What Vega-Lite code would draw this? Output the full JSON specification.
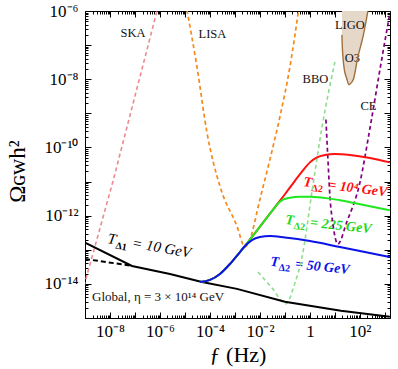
{
  "$schema": "https://vega.github.io/schema/vega-lite/v6.json",
  "autosize": {"type": "none"},
  "width": 305,
  "height": 307,
  "padding": {"left": 85, "top": 11, "right": 8, "bottom": 51},
  "background": "white",
  "config": {
    "font": "Liberation Serif",
    "view": {"stroke": "#000", "strokeWidth": 1},
    "axis": {"labelFont": "Liberation Serif", "titleFont": "Liberation Serif"},
    "text": {"font": "Liberation Serif"}
  },
  "datasets": {
    "ska": [{"f": 9.12e-10, "omega": 8.71e-15}, {"f": 1.318e-8, "omega": 1.023e-11}, {"f": 7.586e-7, "omega": 1e-6}],
    "lisa": [
      {"f": 1.202e-5, "omega": 1.07e-6}, {"f": 3.02e-5, "omega": 2.317e-8}, {"f": 7.586e-5, "omega": 2.742e-10},
      {"f": 2.512e-4, "omega": 7.261e-12}, {"f": 1.202e-3, "omega": 4.932e-13}, {"f": 2.512e-3, "omega": 1.202e-13},
      {"f": 3.981e-3, "omega": 2.061e-13}, {"f": 1e-2, "omega": 3.034e-12}, {"f": 2.512e-2, "omega": 4.467e-11},
      {"f": 6.31e-2, "omega": 8.035e-10}, {"f": 0.1585, "omega": 2.317e-8}, {"f": 0.3467, "omega": 1e-6}
    ],
    "bbo": [
      {"f": 8.318e-3, "omega": 2.239e-14}, {"f": 3.02e-2, "omega": 7.64e-15}, {"f": 0.1096, "omega": 2.606e-15},
      {"f": 0.2443, "omega": 1.0e-14}, {"f": 0.4656, "omega": 5.37e-14}, {"f": 1.318, "omega": 7.78e-12},
      {"f": 2.938, "omega": 3.357e-10}, {"f": 10, "omega": 3.243e-8}
    ],
    "ce": [
      {"f": 4.365, "omega": 6.577e-10}, {"f": 5.248, "omega": 4.467e-11}, {"f": 6.31, "omega": 3.707e-12},
      {"f": 8.318, "omega": 5.65e-13}, {"f": 13.18, "omega": 1.472e-13}, {"f": 29.38, "omega": 6.32e-13},
      {"f": 100, "omega": 9.31e-12}, {"f": 251.2, "omega": 3.589e-10}, {"f": 631, "omega": 1.892e-8},
      {"f": 1585, "omega": 8.75e-7}
    ],
    "ligofill": [
      {"omega": 1e-6, "f": 19.05, "f2": 208.9}, {"omega": 1.995e-7, "f": 19.05, "f2": 138.0},
      {"omega": 1e-7, "f": 19.95, "f2": 109.6}, {"omega": 4.571e-8, "f": 20.89, "f2": 83.18},
      {"omega": 1.549e-8, "f": 25.12, "f2": 63.1}, {"omega": 1e-8, "f": 30.2, "f2": 54.95},
      {"omega": 7.943e-9, "f": 33.11, "f2": 45.71}, {"omega": 6.918e-9, "f": 36.31, "f2": 37.0}
    ],
    "ligoedge": [
      {"k": 1, "f": 19.05, "omega": 1.995e-7}, {"k": 2, "f": 20.89, "omega": 4.571e-8}, {"k": 3, "f": 25.12, "omega": 1.549e-8},
      {"k": 4, "f": 30.2, "omega": 1e-8}, {"k": 5, "f": 33.11, "omega": 7.943e-9}, {"k": 6, "f": 36.31, "omega": 6.918e-9},
      {"k": 7, "f": 45.71, "omega": 7.943e-9}, {"k": 8, "f": 54.95, "omega": 1e-8}, {"k": 9, "f": 63.1, "omega": 1.549e-8},
      {"k": 10, "f": 83.18, "omega": 4.571e-8}, {"k": 11, "f": 109.6, "omega": 1e-7}, {"k": 12, "f": 138.0, "omega": 1.995e-7},
      {"k": 13, "f": 208.9, "omega": 1e-6}
    ],
    "glob": [
      {"f": 1e-9, "omega": 1.63e-13}, {"f": 7.586e-8, "omega": 3.357e-14}, {"f": 2.512e-6, "omega": 1.959e-14},
      {"f": 4.786e-5, "omega": 1.143e-14}, {"f": 1.202e-3, "omega": 7.145e-15}, {"f": 0.1, "omega": 2.979e-15},
      {"f": 17.38, "omega": 1.63e-15}, {"f": 1585, "omega": 1.086e-15}
    ],
    "globdash": [{"f": 1e-9, "omega": 5.37e-14}, {"f": 6.31e-8, "omega": 3.467e-14}],
    "blue": [
      {"f": 3.981e-5, "omega": 1.143e-14}, {"f": 1e-4, "omega": 1.309e-14}, {"f": 2.512e-4, "omega": 1.959e-14},
      {"f": 6.31e-4, "omega": 3.837e-14}, {"f": 1.585e-3, "omega": 8.59e-14}, {"f": 2.512e-3, "omega": 1.285e-13},
      {"f": 4.786e-3, "omega": 1.928e-13}, {"f": 1e-2, "omega": 2.355e-13}, {"f": 2.512e-2, "omega": 2.518e-13},
      {"f": 0.1, "omega": 2.28e-13}, {"f": 1, "omega": 1.8e-13}, {"f": 15.85, "omega": 1.202e-13},
      {"f": 158.5, "omega": 8.59e-14}, {"f": 1585, "omega": 6.14e-14}
    ],
    "green": [
      {"f": 3.981e-5, "omega": 1.143e-14}, {"f": 1e-4, "omega": 1.309e-14}, {"f": 2.512e-4, "omega": 1.959e-14},
      {"f": 6.31e-4, "omega": 3.837e-14}, {"f": 1.585e-3, "omega": 8.59e-14}, {"f": 2.512e-3, "omega": 1.285e-13},
      {"f": 6.31e-3, "omega": 3.083e-13}, {"f": 1.585e-2, "omega": 7.396e-13}, {"f": 3.02e-2, "omega": 1.352e-12},
      {"f": 4.786e-2, "omega": 2.094e-12}, {"f": 8.318e-2, "omega": 2.931e-12}, {"f": 0.1585, "omega": 3.357e-12},
      {"f": 0.3981, "omega": 3.589e-12}, {"f": 1, "omega": 3.589e-12}, {"f": 15.85, "omega": 2.838e-12},
      {"f": 158.5, "omega": 2.028e-12}, {"f": 1585, "omega": 1.449e-12}
    ],
    "red": [
      {"f": 3.981e-5, "omega": 1.143e-14}, {"f": 1e-4, "omega": 1.309e-14}, {"f": 2.512e-4, "omega": 1.959e-14},
      {"f": 6.31e-4, "omega": 3.837e-14}, {"f": 1.585e-3, "omega": 8.59e-14}, {"f": 2.512e-3, "omega": 1.285e-13},
      {"f": 6.31e-3, "omega": 3.083e-13}, {"f": 1.585e-2, "omega": 7.396e-13}, {"f": 3.02e-2, "omega": 1.352e-12},
      {"f": 4.786e-2, "omega": 2.094e-12}, {"f": 0.1, "omega": 4.246e-12}, {"f": 0.2512, "omega": 1.052e-11},
      {"f": 0.5248, "omega": 2.128e-11}, {"f": 1, "omega": 3.648e-11}, {"f": 1.905, "omega": 5.105e-11},
      {"f": 3.981, "omega": 6.04e-11}, {"f": 10, "omega": 6.46e-11}, {"f": 39.81, "omega": 6.04e-11},
      {"f": 251.2, "omega": 4.93e-11}, {"f": 1585, "omega": 3.648e-11}
    ],
    "detlab": [
      {"f": 8.318e-8, "omega": 1.738e-7, "label": "SKA"},
      {"f": 1.259e-4, "omega": 1.622e-7, "label": "LISA"},
      {"f": 39.81, "omega": 2.951e-7, "label": "LIGO"},
      {"f": 50.12, "omega": 3.236e-8, "label": "O3"},
      {"f": 1.66, "omega": 7.943e-9, "label": "BBO"},
      {"f": 218.8, "omega": 1.288e-9, "label": "CE"}
    ],
    "globlab": [{"f": 1.905e-9, "omega": 3.162e-15, "label": "Global, η = 3 × 10¹⁴ GeV"}],
    "tlab": [
      {"id": "d1", "f": 7.586e-9, "omega": 1.574e-13, "t": "T", "sub": "Δ1", "rest": "= 10 GeV"},
      {"id": "red", "f": 0.5248, "omega": 7.413e-12, "t": "T", "sub": "Δ2", "rest": "= 10⁴ GeV"},
      {"id": "green", "f": 0.1, "omega": 5.65e-13, "t": "T", "sub": "Δ2", "rest": "= 225 GeV"},
      {"id": "blue", "f": 0.02512, "omega": 3.42e-14, "t": "T", "sub": "Δ2", "rest": "= 50 GeV"}
    ],
    "dummy": [{"f": 1, "omega": 1e-10}]
  },
  "layer": [
    {
      "encoding": {
        "x": {
          "field": "f", "type": "quantitative",
          "scale": {"type": "log", "domain": [1e-9, 1600], "nice": false},
          "axis": {
            "orient": "bottom",
            "values": [1e-9,2e-9,3e-9,4e-9,5e-9,6e-9,7e-9,8e-9,9e-9,1e-8,2e-8,3e-8,4e-8,5e-8,6e-8,7e-8,8e-8,9e-8,1e-7,2e-7,3e-7,4e-7,5e-7,6e-7,7e-7,8e-7,9e-7,1e-6,2e-6,3e-6,4e-6,5e-6,6e-6,7e-6,8e-6,9e-6,1e-5,2e-5,3e-5,4e-5,5e-5,6e-5,7e-5,8e-5,9e-5,1e-4,2e-4,3e-4,4e-4,5e-4,6e-4,7e-4,8e-4,9e-4,1e-3,2e-3,3e-3,4e-3,5e-3,6e-3,7e-3,8e-3,9e-3,0.01,0.02,0.03,0.04,0.05,0.06,0.07,0.08,0.09,0.1,0.2,0.3,0.4,0.5,0.6,0.7,0.8,0.9,1,2,3,4,5,6,7,8,9,10,20,30,40,50,60,70,80,90,100,200,300,400,500,600,700,800,900,1000],
            "labelExpr": "abs(log(datum.value)/LN10 - round(log(datum.value)/LN10)) > 0.01 ? '' : round(log(datum.value)/LN10) == -8 ? '10⁻⁸' : round(log(datum.value)/LN10) == -6 ? '10⁻⁶' : round(log(datum.value)/LN10) == -4 ? '10⁻⁴' : round(log(datum.value)/LN10) == -2 ? '10⁻²' : round(log(datum.value)/LN10) == 0 ? '1' : round(log(datum.value)/LN10) == 2 ? '10²' : ''",
            "labelOverlap": false, "labelFlush": false,
            "labelFont": "Liberation Serif", "labelFontSize": 17, "labelColor": "#000",
            "labelPadding": 11,
            "tickColor": "#000", "tickWidth": 1,
            "tickSize": {"condition": {"test": "abs(log(datum.value)/LN10 - round(log(datum.value)/LN10)) < 0.01", "value": -6}, "value": -3},
            "domain": false, "grid": false,
            "title": "ƒ (Hz)", "titleFont": "Liberation Serif", "titleFontSize": 22, "titleFontWeight": "normal", "titleColor": "#000", "titlePadding": 2
          }
        },
        "y": {
          "field": "omega", "type": "quantitative",
          "scale": {"type": "log", "domain": [1e-15, 1e-6], "nice": false},
          "axis": {
            "orient": "left",
            "values": [1e-15,2e-15,3e-15,4e-15,5e-15,6e-15,7e-15,8e-15,9e-15,1e-14,2e-14,3e-14,4e-14,5e-14,6e-14,7e-14,8e-14,9e-14,1e-13,2e-13,3e-13,4e-13,5e-13,6e-13,7e-13,8e-13,9e-13,1e-12,2e-12,3e-12,4e-12,5e-12,6e-12,7e-12,8e-12,9e-12,1e-11,2e-11,3e-11,4e-11,5e-11,6e-11,7e-11,8e-11,9e-11,1e-10,2e-10,3e-10,4e-10,5e-10,6e-10,7e-10,8e-10,9e-10,1e-9,2e-9,3e-9,4e-9,5e-9,6e-9,7e-9,8e-9,9e-9,1e-8,2e-8,3e-8,4e-8,5e-8,6e-8,7e-8,8e-8,9e-8,1e-7,2e-7,3e-7,4e-7,5e-7,6e-7,7e-7,8e-7,9e-7,1e-6],
            "labelExpr": "abs(log(datum.value)/LN10 - round(log(datum.value)/LN10)) > 0.01 ? '' : round(log(datum.value)/LN10) == -14 ? '10⁻¹⁴' : round(log(datum.value)/LN10) == -12 ? '10⁻¹²' : round(log(datum.value)/LN10) == -10 ? '10⁻¹⁰' : round(log(datum.value)/LN10) == -8 ? '10⁻⁸' : round(log(datum.value)/LN10) == -6 ? '10⁻⁶' : ''",
            "labelOverlap": false, "labelFlush": false,
            "labelFont": "Liberation Serif", "labelFontSize": 17, "labelColor": "#000",
            "labelPadding": 13,
            "tickColor": "#000", "tickWidth": 1,
            "tickSize": {"condition": {"test": "abs(log(datum.value)/LN10 - round(log(datum.value)/LN10)) < 0.01", "value": -6}, "value": -3},
            "domain": false, "grid": false,
            "title": "Ωɢᴡh²", "titleFont": "Liberation Serif", "titleFontSize": 23, "titleFontWeight": "normal", "titleColor": "#000", "titlePadding": 14, "titleY": 160
          }
        }
      },
      "layer": [
        {"data": {"name": "ligofill"}, "mark": {"type": "area", "orient": "horizontal", "interpolate": "monotone", "color": "#e6d8c9", "clip": true},
         "encoding": {"x2": {"field": "f2"}}},
        {"data": {"name": "detlab"}, "mark": {"type": "text", "align": "center", "baseline": "alphabetic", "font": "Liberation Serif", "fontSize": 12.5, "color": "#111"},
         "encoding": {"text": {"field": "label"}}},
        {"data": {"name": "globlab"}, "mark": {"type": "text", "align": "left", "baseline": "alphabetic", "font": "Liberation Serif", "fontSize": 13, "color": "#111"},
         "encoding": {"text": {"field": "label"}}},
        {"data": {"name": "tlab"}, "transform": [{"filter": "datum.id == 'd1'"}],
         "mark": {"type": "text", "align": "left", "baseline": "alphabetic", "angle": 10, "fontSize": 15, "fontStyle": "italic", "color": "#000"},
         "encoding": {"text": {"field": "t"}}},
        {"data": {"name": "tlab"}, "transform": [{"filter": "datum.id == 'd1'"}],
         "mark": {"type": "text", "align": "left", "baseline": "alphabetic", "angle": 10, "dx": 9, "dy": 4, "fontSize": 10, "fontWeight": "bold", "color": "#000"},
         "encoding": {"text": {"field": "sub"}}},
        {"data": {"name": "tlab"}, "transform": [{"filter": "datum.id == 'd1'"}],
         "mark": {"type": "text", "align": "left", "baseline": "alphabetic", "angle": 10, "dx": 25, "fontSize": 15, "fontStyle": "italic", "color": "#000"},
         "encoding": {"text": {"field": "rest"}}},
        {"data": {"name": "tlab"}, "transform": [{"filter": "datum.id == 'red'"}],
         "mark": {"type": "text", "align": "left", "baseline": "alphabetic", "angle": 7, "fontSize": 14, "fontStyle": "italic", "fontWeight": "bold", "color": "#ff1010"},
         "encoding": {"text": {"field": "t"}}},
        {"data": {"name": "tlab"}, "transform": [{"filter": "datum.id == 'red'"}],
         "mark": {"type": "text", "align": "left", "baseline": "alphabetic", "angle": 7, "dx": 9, "dy": 4, "fontSize": 10, "fontWeight": "bold", "color": "#ff1010"},
         "encoding": {"text": {"field": "sub"}}},
        {"data": {"name": "tlab"}, "transform": [{"filter": "datum.id == 'red'"}],
         "mark": {"type": "text", "align": "left", "baseline": "alphabetic", "angle": 7, "dx": 25, "fontSize": 14, "fontStyle": "italic", "fontWeight": "bold", "color": "#ff1010"},
         "encoding": {"text": {"field": "rest"}}},
        {"data": {"name": "tlab"}, "transform": [{"filter": "datum.id == 'green'"}],
         "mark": {"type": "text", "align": "left", "baseline": "alphabetic", "angle": 6, "fontSize": 14, "fontStyle": "italic", "fontWeight": "bold", "color": "#1ed81e"},
         "encoding": {"text": {"field": "t"}}},
        {"data": {"name": "tlab"}, "transform": [{"filter": "datum.id == 'green'"}],
         "mark": {"type": "text", "align": "left", "baseline": "alphabetic", "angle": 6, "dx": 9, "dy": 4, "fontSize": 10, "fontWeight": "bold", "color": "#1ed81e"},
         "encoding": {"text": {"field": "sub"}}},
        {"data": {"name": "tlab"}, "transform": [{"filter": "datum.id == 'green'"}],
         "mark": {"type": "text", "align": "left", "baseline": "alphabetic", "angle": 6, "dx": 25, "fontSize": 14, "fontStyle": "italic", "fontWeight": "bold", "color": "#1ed81e"},
         "encoding": {"text": {"field": "rest"}}},
        {"data": {"name": "tlab"}, "transform": [{"filter": "datum.id == 'blue'"}],
         "mark": {"type": "text", "align": "left", "baseline": "alphabetic", "angle": 6, "fontSize": 14, "fontStyle": "italic", "fontWeight": "bold", "color": "#0a14e6"},
         "encoding": {"text": {"field": "t"}}},
        {"data": {"name": "tlab"}, "transform": [{"filter": "datum.id == 'blue'"}],
         "mark": {"type": "text", "align": "left", "baseline": "alphabetic", "angle": 6, "dx": 9, "dy": 4, "fontSize": 10, "fontWeight": "bold", "color": "#0a14e6"},
         "encoding": {"text": {"field": "sub"}}},
        {"data": {"name": "tlab"}, "transform": [{"filter": "datum.id == 'blue'"}],
         "mark": {"type": "text", "align": "left", "baseline": "alphabetic", "angle": 6, "dx": 25, "fontSize": 14, "fontStyle": "italic", "fontWeight": "bold", "color": "#0a14e6"},
         "encoding": {"text": {"field": "rest"}}},
        {"data": {"name": "ska"}, "mark": {"type": "line", "color": "#ec8a8f", "strokeWidth": 1.6, "strokeDash": [4, 3], "clip": true}},
        {"data": {"name": "lisa"}, "mark": {"type": "line", "color": "#f5891a", "strokeWidth": 1.7, "strokeDash": [4, 3], "interpolate": "monotone", "clip": true}},
        {"data": {"name": "bbo"}, "mark": {"type": "line", "color": "#90dc90", "strokeWidth": 1.6, "strokeDash": [4, 3], "interpolate": "monotone", "clip": true}},
        {"data": {"name": "ce"}, "mark": {"type": "line", "color": "#800080", "strokeWidth": 1.7, "strokeDash": [4, 3], "interpolate": "monotone", "clip": true}},
        {"data": {"name": "ligoedge"}, "mark": {"type": "line", "color": "#a0703c", "strokeWidth": 1.4, "interpolate": "catmull-rom", "clip": true},
         "encoding": {"order": {"field": "k"}}},
        {"data": {"name": "globdash"}, "mark": {"type": "line", "color": "#000", "strokeWidth": 2, "strokeDash": [5, 3], "clip": true}},
        {"data": {"name": "glob"}, "mark": {"type": "line", "color": "#000", "strokeWidth": 2, "clip": true}},
        {"data": {"name": "red"}, "mark": {"type": "line", "color": "#ff1010", "strokeWidth": 2, "interpolate": "monotone", "clip": true}},
        {"data": {"name": "green"}, "mark": {"type": "line", "color": "#1ee81e", "strokeWidth": 2, "interpolate": "monotone", "clip": true}},
        {"data": {"name": "blue"}, "mark": {"type": "line", "color": "#0a14e6", "strokeWidth": 2, "interpolate": "monotone", "clip": true}}
      ]
    },
    {
      "data": {"name": "dummy"},
      "mark": {"type": "point", "opacity": 0},
      "encoding": {
        "x": {
          "field": "f", "type": "quantitative",
          "scale": {"type": "log", "domain": [1e-9, 1600], "nice": false},
          "axis": {
            "orient": "top", "labels": false, "title": null, "domain": false, "grid": false,
            "values": [1e-9,2e-9,3e-9,4e-9,5e-9,6e-9,7e-9,8e-9,9e-9,1e-8,2e-8,3e-8,4e-8,5e-8,6e-8,7e-8,8e-8,9e-8,1e-7,2e-7,3e-7,4e-7,5e-7,6e-7,7e-7,8e-7,9e-7,1e-6,2e-6,3e-6,4e-6,5e-6,6e-6,7e-6,8e-6,9e-6,1e-5,2e-5,3e-5,4e-5,5e-5,6e-5,7e-5,8e-5,9e-5,1e-4,2e-4,3e-4,4e-4,5e-4,6e-4,7e-4,8e-4,9e-4,1e-3,2e-3,3e-3,4e-3,5e-3,6e-3,7e-3,8e-3,9e-3,0.01,0.02,0.03,0.04,0.05,0.06,0.07,0.08,0.09,0.1,0.2,0.3,0.4,0.5,0.6,0.7,0.8,0.9,1,2,3,4,5,6,7,8,9,10,20,30,40,50,60,70,80,90,100,200,300,400,500,600,700,800,900,1000],
            "tickColor": "#000", "tickWidth": 1,
            "tickSize": {"condition": {"test": "abs(log(datum.value)/LN10 - round(log(datum.value)/LN10)) < 0.01", "value": -6}, "value": -3}
          }
        },
        "y": {
          "field": "omega", "type": "quantitative",
          "scale": {"type": "log", "domain": [1e-15, 1e-6], "nice": false},
          "axis": {
            "orient": "right", "labels": false, "title": null, "domain": false, "grid": false,
            "values": [1e-15,2e-15,3e-15,4e-15,5e-15,6e-15,7e-15,8e-15,9e-15,1e-14,2e-14,3e-14,4e-14,5e-14,6e-14,7e-14,8e-14,9e-14,1e-13,2e-13,3e-13,4e-13,5e-13,6e-13,7e-13,8e-13,9e-13,1e-12,2e-12,3e-12,4e-12,5e-12,6e-12,7e-12,8e-12,9e-12,1e-11,2e-11,3e-11,4e-11,5e-11,6e-11,7e-11,8e-11,9e-11,1e-10,2e-10,3e-10,4e-10,5e-10,6e-10,7e-10,8e-10,9e-10,1e-9,2e-9,3e-9,4e-9,5e-9,6e-9,7e-9,8e-9,9e-9,1e-8,2e-8,3e-8,4e-8,5e-8,6e-8,7e-8,8e-8,9e-8,1e-7,2e-7,3e-7,4e-7,5e-7,6e-7,7e-7,8e-7,9e-7,1e-6],
            "tickColor": "#000", "tickWidth": 1,
            "tickSize": {"condition": {"test": "abs(log(datum.value)/LN10 - round(log(datum.value)/LN10)) < 0.01", "value": -6}, "value": -3}
          }
        }
      }
    }
  ],
  "resolve": {"axis": {"x": "independent", "y": "independent"}}
}
